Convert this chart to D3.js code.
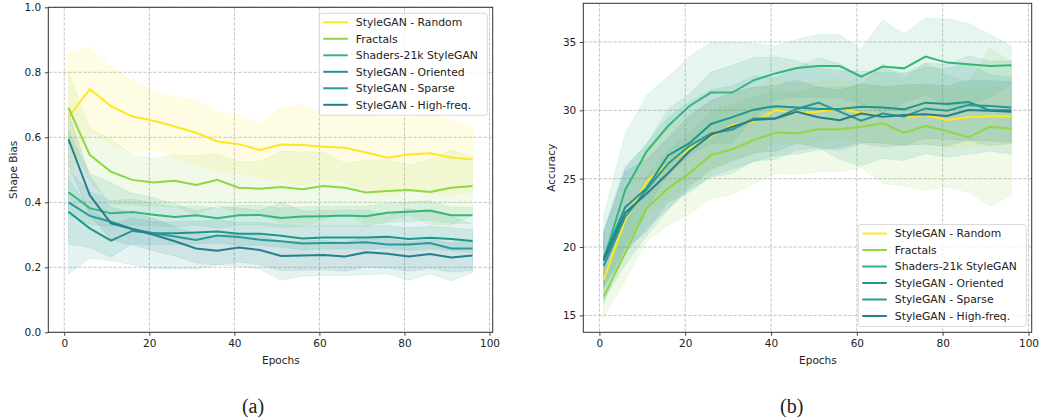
<!DOCTYPE html>
<html>
<head>
<meta charset="utf-8">
<script src="https://cdn.jsdelivr.net/npm/d3@7/dist/d3.min.js"></script>
<style>
  body { margin: 0; background: #fff; }
  svg text { font-family: "DejaVu Sans", sans-serif; fill: #222; }
  .caption { font-family: "Liberation Serif", "Times New Roman", serif !important; }
</style>
</head>
<body>
<div id="chart"></div>
<script>
// epochs shared by both panels
var epochs = [1, 6, 11, 16, 21, 26, 31, 36, 41, 46, 51, 56, 61, 66, 71, 76, 81, 86, 91, 96];

var seriesNames = ["StyleGAN - Random", "Fractals", "Shaders-21k StyleGAN",
                   "StyleGAN - Oriented", "StyleGAN - Sparse", "StyleGAN - High-freq."];
var seriesColors = ["#fde725", "#8fd744", "#35b779", "#1f968b", "#2a9a97", "#277f8e"];

// (a) shape bias, mean and spread
var sbRandom   = [0.662, 0.748, 0.696, 0.664, 0.651, 0.633, 0.614, 0.587, 0.579, 0.561, 0.578, 0.576, 0.571, 0.568, 0.553, 0.537, 0.547, 0.551, 0.538, 0.532];
var sbRandomSd = [0.196, 0.128, 0.12, 0.112, 0.09, 0.092, 0.10, 0.092, 0.09, 0.082, 0.114, 0.124, 0.103, 0.106, 0.116, 0.121, 0.111, 0.123, 0.115, 0.10];
var sbFractals   = [0.691, 0.546, 0.494, 0.469, 0.461, 0.466, 0.453, 0.469, 0.445, 0.442, 0.447, 0.44, 0.45, 0.445, 0.43, 0.435, 0.438, 0.432, 0.445, 0.45];
var sbFractalsSd = [0.11, 0.08, 0.1, 0.077, 0.074, 0.08, 0.09, 0.08, 0.08, 0.083, 0.11, 0.115, 0.105, 0.075, 0.1, 0.095, 0.077, 0.1, 0.115, 0.09];
var sbShaders   = [0.431, 0.382, 0.366, 0.37, 0.362, 0.355, 0.36, 0.351, 0.36, 0.361, 0.352, 0.356, 0.357, 0.359, 0.357, 0.368, 0.371, 0.375, 0.36, 0.36];
var sbShadersSd = [0.07, 0.05, 0.04, 0.04, 0.035, 0.03, 0.03, 0.03, 0.03, 0.03, 0.03, 0.03, 0.03, 0.03, 0.03, 0.03, 0.03, 0.03, 0.025, 0.025];
var sbOriented   = [0.371, 0.32, 0.282, 0.312, 0.305, 0.305, 0.307, 0.31, 0.303, 0.303, 0.297, 0.289, 0.292, 0.292, 0.292, 0.294, 0.287, 0.291, 0.287, 0.281];
var sbOrientedSd = [0.1, 0.06, 0.05, 0.04, 0.035, 0.035, 0.035, 0.035, 0.035, 0.035, 0.035, 0.035, 0.035, 0.035, 0.035, 0.035, 0.035, 0.035, 0.035, 0.035];
var sbSparse   = [0.40, 0.358, 0.34, 0.318, 0.305, 0.295, 0.284, 0.298, 0.293, 0.285, 0.28, 0.273, 0.275, 0.275, 0.277, 0.27, 0.27, 0.275, 0.258, 0.258];
var sbSparseSd = [0.22, 0.13, 0.12, 0.11, 0.11, 0.1, 0.09, 0.09, 0.09, 0.09, 0.12, 0.1, 0.1, 0.1, 0.1, 0.09, 0.11, 0.095, 0.1, 0.075];
var sbHighfreq   = [0.594, 0.422, 0.335, 0.318, 0.3, 0.28, 0.258, 0.251, 0.261, 0.253, 0.235, 0.236, 0.238, 0.233, 0.246, 0.242, 0.233, 0.241, 0.23, 0.236];
var sbHighfreqSd = [0.08, 0.06, 0.05, 0.05, 0.05, 0.045, 0.045, 0.045, 0.045, 0.045, 0.045, 0.045, 0.045, 0.045, 0.045, 0.045, 0.045, 0.045, 0.045, 0.045];

// (b) accuracy, mean and spread
var accRandom   = [17.59, 21.98, 24.78, 26.12, 27.2, 28.07, 28.93, 29.17, 30.02, 29.78, 29.9, 30.15, 29.78, 29.66, 29.5, 29.66, 29.3, 29.5, 29.56, 29.56];
var accRandomSd = [1.0, 2.0, 2.5, 2.6, 2.6, 2.6, 2.5, 2.4, 2.3, 2.2, 2.2, 2.2, 2.1, 2.1, 2.1, 2.1, 2.1, 2.1, 2.1, 2.1];
var accFractals   = [16.37, 19.54, 22.83, 24.29, 25.39, 26.73, 27.15, 27.83, 28.37, 28.32, 28.61, 28.61, 28.8, 29.05, 28.37, 28.85, 28.49, 28.02, 28.8, 28.66];
var accFractalsSd = [1.5, 2.0, 2.4, 2.7, 3.0, 3.2, 3.3, 3.2, 3.0, 3.0, 3.1, 3.1, 3.0, 4.4, 3.9, 4.7, 4.1, 4.0, 5.8, 4.9];
var accShaders   = [19.05, 24.17, 26.98, 28.85, 30.32, 31.3, 31.3, 32.2, 32.7, 33.1, 33.24, 33.24, 32.46, 33.2, 33.07, 33.93, 33.49, 33.37, 33.24, 33.3];
var accShadersSd = [3.3, 4.1, 4.1, 3.6, 3.6, 3.7, 3.7, 2.7, 2.0, 2.1, 2.3, 2.3, 2.0, 3.4, 2.5, 2.8, 3.2, 3.0, 2.3, 1.4];
var accOriented   = [19.2, 22.9, 24.3, 26.7, 27.6, 29.0, 29.5, 30.05, 30.3, 30.2, 30.1, 30.1, 30.26, 30.2, 30.07, 30.56, 30.46, 30.6, 30.0, 30.0];
var accOrientedSd = [2.0, 3.0, 3.2, 3.4, 3.6, 3.8, 3.8, 3.8, 3.6, 3.4, 3.0, 2.8, 2.6, 2.6, 2.6, 2.6, 2.6, 2.8, 2.6, 2.4];
var accSparse   = [18.6, 22.2, 24.2, 26.1, 27.4, 28.3, 28.6, 29.4, 29.4, 30.1, 30.56, 29.9, 29.24, 29.77, 29.53, 30.14, 29.97, 30.38, 30.31, 30.21];
var accSparseSd = [2.5, 3.5, 3.4, 3.4, 3.2, 3.2, 3.2, 3.1, 3.0, 3.0, 3.3, 3.5, 3.3, 3.3, 3.2, 3.3, 3.4, 3.6, 3.3, 3.4];
var accHighfreq   = [19.0, 22.5, 23.9, 25.4, 27.0, 28.2, 28.8, 29.3, 29.4, 29.9, 29.49, 29.28, 29.77, 29.53, 29.65, 29.72, 29.58, 30.02, 29.97, 29.89];
var accHighfreqSd = [2.0, 3.0, 2.5, 2.6, 2.6, 2.5, 2.5, 2.4, 2.4, 2.3, 2.2, 2.2, 2.2, 2.2, 2.2, 2.2, 2.2, 2.2, 2.2, 2.2];

var xTicks = [0, 20, 40, 60, 80, 100];
var sbTicks = [0.0, 0.2, 0.4, 0.6, 0.8, 1.0];
var accTicks = [15, 20, 25, 30, 35];

var width = 1039, height = 420;

var svg = d3.select("#chart").append("svg")
  .attr("width", width)
  .attr("height", height);

function makeSeries(means, sds) {
  return seriesNames.map(function (name, i) {
    return {
      name: name,
      color: seriesColors[i],
      values: epochs.map(function (e, j) {
        return { x: e, y: means[i][j], lo: means[i][j] - sds[i][j], hi: means[i][j] + sds[i][j] };
      })
    };
  });
}

function drawPanel(cfg) {
  var x = d3.scaleLinear().domain([-3.75, 100.75]).range([cfg.left, cfg.right]);
  var y = d3.scaleLinear().domain(cfg.yDomain).range([cfg.bottom, cfg.top]);
  var g = svg.append("g");

  // grid
  g.selectAll(".gx").data(xTicks).enter().append("line")
    .attr("x1", function (d) { return x(d); }).attr("x2", function (d) { return x(d); })
    .attr("y1", cfg.top).attr("y2", cfg.bottom)
    .attr("stroke", "#b8b8b8").attr("stroke-width", 0.8).attr("stroke-dasharray", "3.5,1.5");
  g.selectAll(".gy").data(cfg.yTicks).enter().append("line")
    .attr("x1", cfg.left).attr("x2", cfg.right)
    .attr("y1", function (d) { return y(d); }).attr("y2", function (d) { return y(d); })
    .attr("stroke", "#b8b8b8").attr("stroke-width", 0.8).attr("stroke-dasharray", "3.5,1.5");

  var clip = g.append("g");

  var area = d3.area()
    .x(function (d) { return x(d.x); })
    .y0(function (d) { return y(d.lo); })
    .y1(function (d) { return y(d.hi); });
  var line = d3.line()
    .x(function (d) { return x(d.x); })
    .y(function (d) { return y(d.y); });

  clip.selectAll(".band").data(cfg.series).enter().append("path")
    .attr("d", function (d) { return area(d.values); })
    .attr("fill", function (d) { return d.color; })
    .attr("fill-opacity", 0.12)
    .attr("stroke", function (d) { return d.color; })
    .attr("stroke-opacity", 0.12)
    .attr("stroke-width", 0.8);

  clip.selectAll(".line").data(cfg.series).enter().append("path")
    .attr("d", function (d) { return line(d.values); })
    .attr("fill", "none")
    .attr("stroke", function (d) { return d.color; })
    .attr("stroke-width", 2);

  // axes
  var xAxis = d3.axisBottom(x).tickValues(xTicks).tickSize(3.5).tickPadding(3.5).tickFormat(d3.format("d"));
  var yAxis = d3.axisLeft(y).tickValues(cfg.yTicks).tickSize(3.5).tickPadding(3.5).tickFormat(cfg.yFormat);

  var ax = g.append("g").attr("transform", "translate(0," + cfg.bottom + ")").call(xAxis);
  var ay = g.append("g").attr("transform", "translate(" + cfg.left + ",0)").call(yAxis);
  [ax, ay].forEach(function (a) {
    a.select(".domain").remove();
    a.selectAll("line").attr("stroke", "#333").attr("stroke-width", 0.9);
    a.selectAll("text").attr("font-size", "10.5px").attr("fill", "#222")
      .style("font-family", "DejaVu Sans, sans-serif");
  });

  // frame
  g.append("rect")
    .attr("x", cfg.left).attr("y", cfg.top)
    .attr("width", cfg.right - cfg.left).attr("height", cfg.bottom - cfg.top)
    .attr("fill", "none").attr("stroke", "#333").attr("stroke-width", 1);

  // labels
  g.append("text")
    .attr("x", (x(0) + x(100)) / 2 + 4).attr("y", cfg.bottom + 32)
    .attr("text-anchor", "middle").attr("font-size", "10.5px")
    .text("Epochs");
  g.append("text")
    .attr("transform", "translate(" + cfg.yLabelX + "," + ((cfg.top + cfg.bottom) / 2) + ")rotate(-90)")
    .attr("text-anchor", "middle").attr("dy", "0.35em").attr("font-size", "10.5px")
    .text(cfg.yLabel);

  // legend
  var lg = g.append("g").attr("transform", "translate(" + cfg.legend[0] + "," + cfg.legend[1] + ")");
  lg.append("rect")
    .attr("width", 168).attr("height", 102).attr("rx", 2.5)
    .attr("fill", "#fff").attr("fill-opacity", 0.8)
    .attr("stroke", "#d2d2d2").attr("stroke-width", 0.8);
  var rows = lg.selectAll(".row").data(cfg.series).enter().append("g")
    .attr("transform", function (d, i) { return "translate(0," + (9 + i * 16.5) + ")"; });
  rows.append("line")
    .attr("x1", 4).attr("x2", 28.5)
    .attr("stroke", function (d) { return d.color; }).attr("stroke-width", 2);
  rows.append("text")
    .attr("x", 36.5).attr("dy", "0.35em").attr("font-size", "10.8px")
    .text(function (d) { return d.name; });

  // caption
  svg.append("text")
    .attr("class", "caption")
    .attr("x", cfg.captionX).attr("y", 413)
    .attr("text-anchor", "middle").attr("font-size", "20px")
    .style("font-family", "Liberation Serif, serif")
    .text(cfg.caption);
}

drawPanel({
  left: 48.3, right: 492.7, top: 7.3, bottom: 332.3,
  yDomain: [0, 1], yTicks: sbTicks, yFormat: d3.format(".1f"),
  yLabel: "Shape Bias", yLabelX: 13,
  series: makeSeries([sbRandom, sbFractals, sbShaders, sbOriented, sbSparse, sbHighfreq],
                     [sbRandomSd, sbFractalsSd, sbShadersSd, sbOrientedSd, sbSparseSd, sbHighfreqSd]),
  legend: [319.3, 13.3],
  caption: "(a)", captionX: 253
});

drawPanel({
  left: 583.3, right: 1031.7, top: 3.3, bottom: 332.3,
  yDomain: [13.76, 37.83], yTicks: accTicks, yFormat: d3.format("d"),
  yLabel: "Accuracy", yLabelX: 551,
  series: makeSeries([accRandom, accFractals, accShaders, accOriented, accSparse, accHighfreq],
                     [accRandomSd, accFractalsSd, accShadersSd, accOrientedSd, accSparseSd, accHighfreqSd]),
  legend: [858.3, 224.5],
  caption: "(b)", captionX: 791.7
});
</script>
</body>
</html>
